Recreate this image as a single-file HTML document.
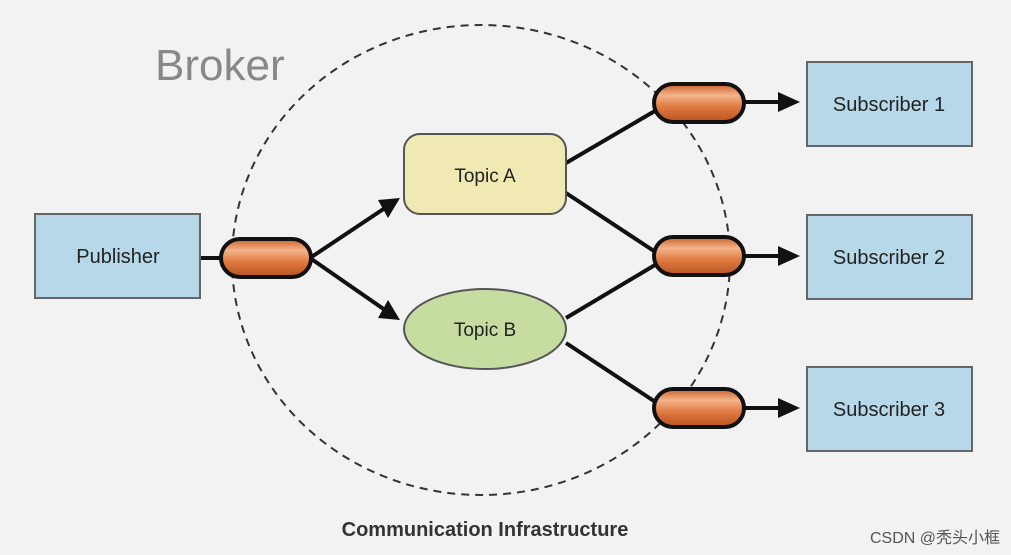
<!DOCTYPE html>
<html><head><style>body{margin:0;background:#f2f2f2}svg{display:block}</style></head><body>
<svg width="1011" height="555" viewBox="0 0 1011 555" xmlns="http://www.w3.org/2000/svg" font-family="Liberation Sans, sans-serif">
<defs>
<linearGradient id="pipe" x1="0" y1="0" x2="0" y2="1">
<stop offset="0" stop-color="#c9602a"/><stop offset="0.3" stop-color="#f4b48a"/><stop offset="0.6" stop-color="#e07a42"/><stop offset="1" stop-color="#b8521f"/></linearGradient>
<marker id="ah" markerWidth="10" markerHeight="10" refX="9" refY="5" orient="auto" markerUnits="userSpaceOnUse"><path d="M0,0 L0,0" /></marker>
</defs>
<rect width="1011" height="555" fill="#f2f2f2"/>
<ellipse cx="481" cy="260" rx="249" ry="235" fill="none" stroke="#333" stroke-width="2" stroke-dasharray="8,6"/>
<text x="155" y="80" font-size="44" fill="#888">Broker</text>
<!-- lines -->
<g stroke="#111" stroke-width="4" fill="none">
<line x1="200" y1="258" x2="225" y2="258"/>
<line x1="310" y1="258" x2="385" y2="208"/>
<line x1="310" y1="258" x2="385" y2="310"/>
<line x1="566" y1="163" x2="660" y2="108"/>
<line x1="566" y1="193" x2="660" y2="255"/>
<line x1="566" y1="318" x2="660" y2="262"/>
<line x1="566" y1="343" x2="660" y2="405"/>
<line x1="744" y1="102" x2="785" y2="102"/>
<line x1="744" y1="256" x2="785" y2="256"/>
<line x1="744" y1="408" x2="785" y2="408"/>
</g>
<g fill="#111">
<polygon points="400,198 378,200 388,218"/>
<polygon points="400,320 388,300 378,318"/>
<polygon points="800,102 778,92 778,112"/>
<polygon points="800,256 778,246 778,266"/>
<polygon points="800,408 778,398 778,418"/>
</g>
<!-- pipes -->
<g stroke="#111" stroke-width="4" fill="url(#pipe)">
<rect x="221" y="239" width="90" height="38" rx="19"/>
<rect x="654" y="84" width="90" height="38" rx="19"/>
<rect x="654" y="237" width="90" height="38" rx="19"/>
<rect x="654" y="389" width="90" height="38" rx="19"/>
</g>
<!-- topics -->
<rect x="404" y="134" width="162" height="80" rx="16" fill="#f0e9b4" stroke="#555" stroke-width="2"/>
<text x="485" y="182" font-size="19" text-anchor="middle" fill="#222">Topic A</text>
<ellipse cx="485" cy="329" rx="81" ry="40" fill="#c7dca1" stroke="#555" stroke-width="2"/>
<text x="485" y="336" font-size="19" text-anchor="middle" fill="#222">Topic B</text>
<!-- boxes -->
<g fill="#b6d8e8" stroke="#666" stroke-width="2">
<rect x="35" y="214" width="165" height="84"/>
<rect x="807" y="62" width="165" height="84"/>
<rect x="807" y="215" width="165" height="84"/>
<rect x="807" y="367" width="165" height="84"/>
</g>
<g font-size="20" text-anchor="middle" fill="#222">
<text x="118" y="263">Publisher</text>
<text x="889" y="111">Subscriber 1</text>
<text x="889" y="264">Subscriber 2</text>
<text x="889" y="416">Subscriber 3</text>
</g>
<text x="485" y="536" font-size="20" font-weight="bold" text-anchor="middle" fill="#333">Communication Infrastructure</text>
<text x="1000" y="543" font-size="16" text-anchor="end" fill="#555" font-family="Liberation Sans, Noto Sans CJK SC, sans-serif">CSDN @秃头小框</text>
</svg>
</body></html>
